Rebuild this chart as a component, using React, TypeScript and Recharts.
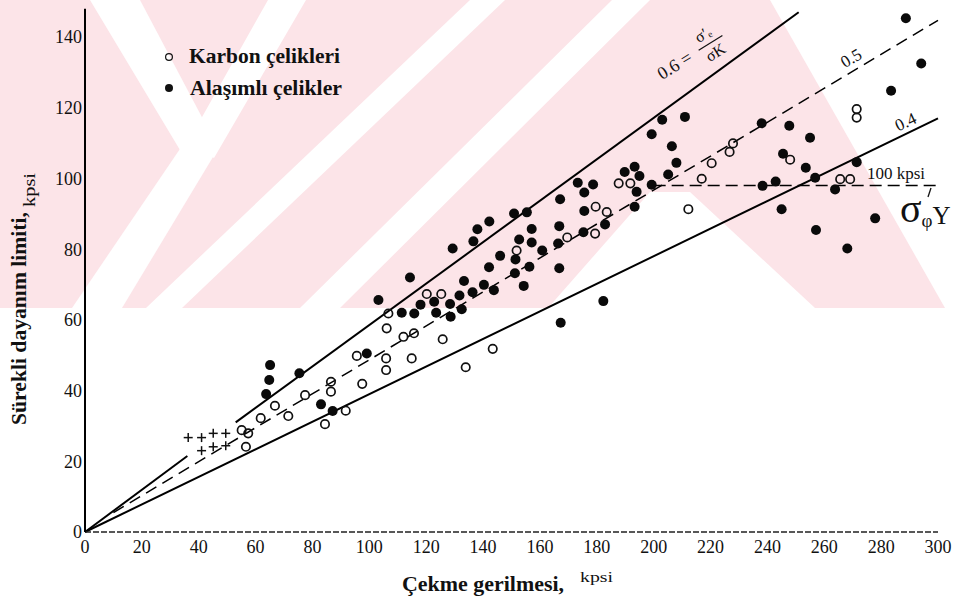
import React from 'react'
import { ComposedChart, Line, Scatter, XAxis, YAxis } from 'recharts'

const SERIF = "'Liberation Serif', 'Times New Roman', serif"

const X_TICKS = [0, 20, 40, 60, 80, 100, 120, 140, 160, 180, 200, 220, 240, 260, 280, 300]
const Y_TICKS = [0, 20, 40, 60, 80, 100, 120, 140]

// karbon çelikleri (open circles), kpsi
const carbonX = [106.7, 106.1, 112, 115.7, 125.8, 114.9, 105.9, 105.9, 95.6, 97.5, 86.5, 86.5, 77.4, 71.5, 66.8, 61.8, 57.4, 55.1, 56.6, 84.4, 91.7, 133.9, 143.4, 120.2, 125.3, 151.8, 169.6, 179.6, 183.5, 179.4, 187.7, 191.8, 220.4, 216.9, 212.2, 227.9, 226.7, 248, 265.6, 269.1, 271.4, 271.4]
const carbonY = [61.8, 57.6, 55.2, 56.2, 54.5, 49.1, 49.1, 45.8, 49.8, 41.9, 42.5, 39.7, 38.7, 32.8, 35.7, 32.2, 27.9, 28.8, 24.1, 30.5, 34.3, 46.6, 51.8, 67.3, 67.3, 79.6, 83.3, 92, 90.5, 84.4, 98.6, 98.6, 104.3, 99.9, 91.3, 109.9, 107.5, 105.3, 99.8, 99.8, 119.6, 117.2]

// alaşımlı çelikler (filled dots)
const alloyX = [65.1, 64.8, 63.7, 75.4, 83, 87.1, 99.1, 103.2, 111.4, 115.8, 118, 122.8, 123.5, 128.4, 128.6, 132.5, 131.7, 133.3, 136.3, 140.3, 142.1, 143.8, 114.3, 129.3, 136.6, 138, 142.2, 150.9, 155.4, 167.1, 173.3, 175.6, 178.7, 189.8, 193.3, 195, 194, 193.3, 175.6, 182.9, 175.3, 166.8, 166.4, 166.8, 157.1, 157.1, 152.7, 146, 151.4, 156.3, 151.2, 160.8, 154.3, 182.3, 167.3, 199.3, 203, 211, 206.4, 208, 205.1, 199.3, 238, 247.7, 255, 245.5, 253.5, 256.8, 238.3, 242.9, 271.4, 263.8, 245, 277.9, 257.1, 268.1, 288.7, 294.1, 283.5]
const alloyY = [47.2, 43, 39, 44.9, 36.1, 34.2, 50.5, 65.6, 62, 61.8, 64.3, 65.1, 62, 64.5, 60.9, 63, 66.9, 71, 67.8, 69.9, 74.9, 68.4, 72, 80.2, 82.2, 85.6, 87.8, 90.1, 90.4, 94.1, 98.8, 96, 98.3, 101.8, 103.3, 100.7, 96.2, 92, 90.8, 87, 84.8, 86.5, 81.6, 74.6, 85.7, 81.9, 82.7, 78.1, 77.1, 75, 73.2, 79.6, 69.6, 65.3, 59.2, 112.5, 116.6, 117.4, 109.1, 104.4, 101.1, 98.2, 115.6, 114.9, 111.5, 107, 103, 100.2, 97.9, 99.1, 104.6, 96.9, 91.3, 88.7, 85.4, 80.2, 145.3, 132.5, 124.8]

// unlabelled "+" points near 40-50 kpsi
const plusX = [36.3, 41, 45.1, 49.5, 41, 45.1, 49.5]
const plusY = [26.7, 26.7, 27.9, 27.9, 23, 24.1, 24.4]

// ratio lines
const line06aX = [0, 36]
const line06aY = [0, 21.5]
const line06bX = [53, 251]
const line06bY = [31, 147]
const line05X = [10, 300]
const line05Y = [5.5, 144.7]
const line04X = [0, 300]
const line04Y = [0, 117]
const yieldX = [200, 300]
const yieldY = [98, 98]

const zip = (xs: number[], ys: number[]) => xs.map((x, i) => ({ x, y: ys[i] }))

const carbon = zip(carbonX, carbonY)
const alloy = zip(alloyX, alloyY)
const plus = zip(plusX, plusY)

const OpenDot = (p: any) => <circle cx={p.cx} cy={p.cy} r={4.2} fill="none" stroke="#111" strokeWidth={1.7} />
const FilledDot = (p: any) => <circle cx={p.cx} cy={p.cy} r={5} fill="#0a0a0a" />
const PlusMark = (p: any) => (
  <g stroke="#111" strokeWidth={1.5}>
    <line x1={p.cx - 4.5} y1={p.cy} x2={p.cx + 4.5} y2={p.cy} />
    <line x1={p.cx} y1={p.cy - 4.5} x2={p.cx} y2={p.cy + 4.5} />
  </g>
)

// scanned thesis watermark behind the plot
function Watermark() {
  const white = '#ffffff'
  return (
    <svg width={960} height={603} style={{ position: 'absolute', left: 0, top: 0 }}>
      <rect x={0} y={0} width={960} height={308} fill="#fce4e8" />
      <polygon points="90,0 140,0 214,140 186,160" fill={white} />
      <polygon points="268,0 306,0 214,158 188,142" fill={white} />
      <polygon points="186,140 216,152 122,308 72,308" fill={white} />
      <polygon points="470,0 505,0 182,308 146,308" fill={white} />
      <polygon points="612,0 650,0 340,308 300,308" fill={white} />
      <polygon points="548,308 650,192 690,192 815,308" fill={white} />
      <polygon points="770,0 960,0 960,308 945,308" fill={white} />
    </svg>
  )
}

function Annotations() {
  const t = { fontFamily: SERIF, fill: '#111' }
  const fit = { lengthAdjust: 'spacingAndGlyphs' as const }
  return (
    <svg width={960} height={603} style={{ position: 'absolute', left: 0, top: 0, pointerEvents: 'none' }}>
      {/* legend */}
      <circle cx={169} cy={57} r={3.4} fill="none" stroke="#111" strokeWidth={1.2} />
      <text x={189} y={63} fontSize={20} fontWeight={700} textLength={151} {...fit} {...t}>Karbon çelikleri</text>
      <circle cx={169} cy={88} r={4} fill="#111" />
      <text x={190} y={95} fontSize={20} fontWeight={700} textLength={152} {...fit} {...t}>Alaşımlı çelikler</text>

      {/* axis titles */}
      <text transform="translate(26,425) rotate(-90)" fontSize={21} fontWeight={700} textLength={213} {...fit} {...t}>Sürekli dayanım limiti,</text>
      <text transform="translate(35,207) rotate(-90)" fontSize={17} textLength={34} {...fit} {...t}>kpsi</text>
      <text x={402} y={591} fontSize={20} fontWeight={700} textLength={162} {...fit} {...t}>Çekme gerilmesi,</text>
      <text x={580} y={582} fontSize={15} textLength={33} {...fit} {...t}>kpsi</text>

      {/* line labels */}
      <g transform="translate(680,62) rotate(-32)">
        <text x={-25} y={6} fontSize={18} {...t}>0.6 =</text>
        <text x={26} y={-6} fontSize={16} {...t}>σ′ₑ</text>
        <line x1={22} y1={0} x2={50} y2={0} stroke="#111" strokeWidth={1.2} />
        <text x={25} y={16} fontSize={16} {...t}>σK</text>
      </g>
      <text transform="translate(854,63) rotate(-30)" textAnchor="middle" fontSize={17} {...t}>0.5</text>
      <text transform="translate(908,127) rotate(-25)" textAnchor="middle" fontSize={17} {...t}>0.4</text>
      <text x={867} y={179} fontSize={17} {...t}>100 kpsi</text>
      <text x={900} y={222} {...t}>
        <tspan fontSize={40}>σ</tspan>
        <tspan fontSize={19} dy={5}>φ</tspan>
        <tspan fontSize={25} dy={-3}>Y</tspan>
      </text>
      <line x1={931} y1={188} x2={928} y2={197} stroke="#111" strokeWidth={1.3} />
    </svg>
  )
}

export default function App() {
  return (
    <div style={{ position: 'absolute', left: 0, top: 0, width: 960, height: 603, background: '#fff' }}>
      <Watermark />
      <div style={{ position: 'absolute', left: 0, top: 0 }}>
        <ComposedChart width={960} height={603} margin={{ top: 8.7, right: 22, bottom: 41, left: 0 }}>
          <XAxis
            type="number"
            dataKey="x"
            domain={[0, 300]}
            ticks={X_TICKS}
            interval={0}
            height={30}
            tickLine={false}
            axisLine={{ stroke: '#222', strokeWidth: 1.3, strokeDasharray: '6 2' }}
            tick={{ fontSize: 18, fill: '#111', fontFamily: SERIF }}
          />
          <YAxis
            type="number"
            dataKey="y"
            domain={[0, 148]}
            ticks={Y_TICKS}
            interval={0}
            width={85}
            tickLine={false}
            tickSize={0}
            tickMargin={3}
            axisLine={{ stroke: '#000', strokeWidth: 2 }}
            tick={{ fontSize: 18, fill: '#111', fontFamily: SERIF }}
          />
          <Line data={zip(line06aX, line06aY)} dataKey="y" stroke="#000" strokeWidth={2} dot={false} isAnimationActive={false} />
          <Line data={zip(line06bX, line06bY)} dataKey="y" stroke="#000" strokeWidth={2} dot={false} isAnimationActive={false} />
          <Line data={zip(line04X, line04Y)} dataKey="y" stroke="#000" strokeWidth={2} dot={false} isAnimationActive={false} />
          <Line data={zip(line05X, line05Y)} dataKey="y" stroke="#000" strokeWidth={1.5} strokeDasharray="12 7" dot={false} isAnimationActive={false} />
          <Line data={zip(yieldX, yieldY)} dataKey="y" stroke="#000" strokeWidth={1.5} strokeDasharray="12 6" dot={false} isAnimationActive={false} />
          <Scatter data={carbon} shape={OpenDot} isAnimationActive={false} />
          <Scatter data={alloy} shape={FilledDot} isAnimationActive={false} />
          <Scatter data={plus} shape={PlusMark} isAnimationActive={false} />
        </ComposedChart>
      </div>
      <Annotations />
    </div>
  )
}
